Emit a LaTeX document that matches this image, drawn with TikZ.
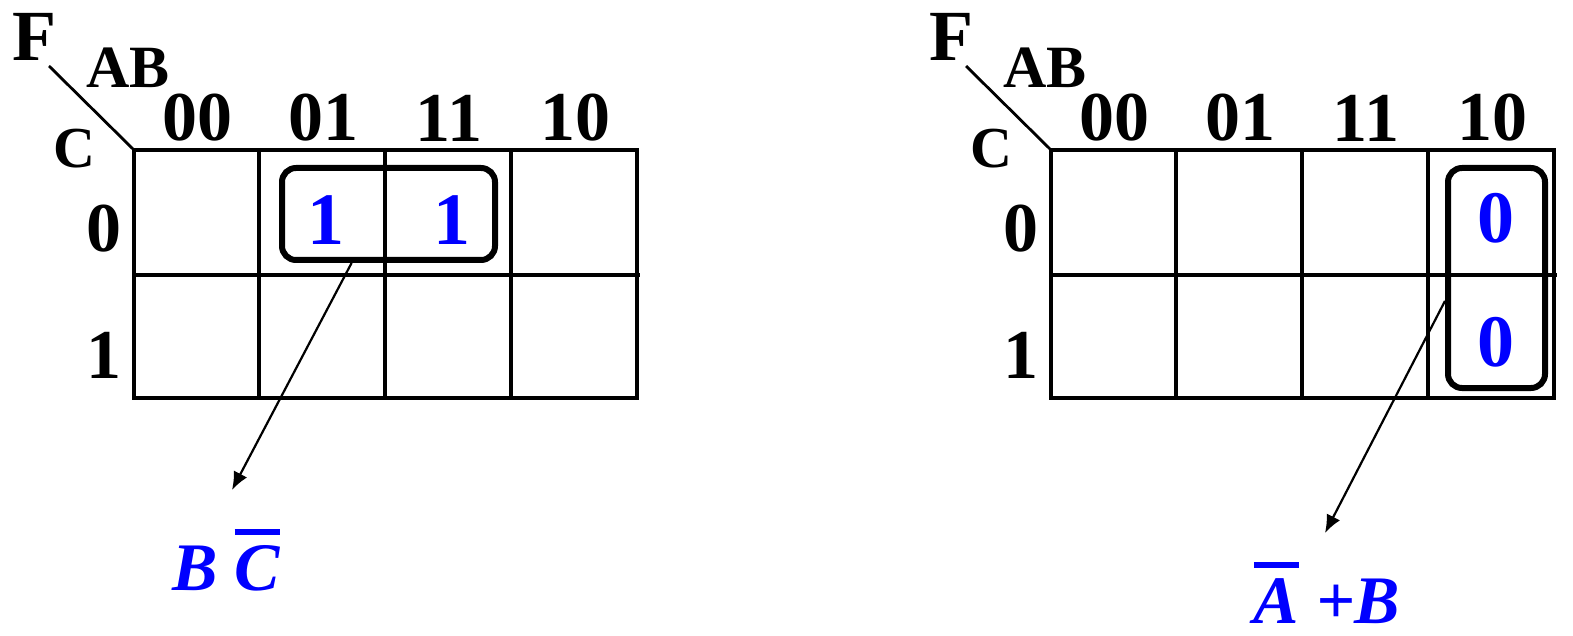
\documentclass[tikz,border=0pt]{standalone}
\usepackage{fontspec}
\setmainfont{Liberation Serif}
\usetikzlibrary{arrows.meta}
\definecolor{termblue}{RGB}{0,0,255}
\newcommand{\notbar}[1]{\setbox0=\hbox{#1}\rlap{\raise\dimexpr\ht0+5pt\relax\hbox{\vrule width\wd0 height 3pt depth 0pt}}\box0\relax}
\begin{document}
\begin{tikzpicture}[x=0.5pt,y=-0.5pt,
    gridline/.style={line width=2pt},
    loopbox/.style={draw,line width=3pt,rounded corners=7pt,inner sep=0pt},
    lbl/.style={inner sep=0pt,font=\fontsize{35}{35}\selectfont\bfseries},
    cellval/.style={inner sep=0pt,text=termblue,font=\fontsize{37}{37}\selectfont\bfseries},
    term/.style={inner sep=0pt,anchor=base,text=termblue,font=\fontsize{34}{34}\selectfont\bfseries\itshape},
    pointer/.style={line width=1.1pt,-{Latex[length=9pt,width=7.5pt]}}]
  \useasboundingbox (0,0) rectangle (1573,636);
   \newcommand{\kmapframe}[2]{
    \begin{scope}[shift={(#1,150)}]
      \draw[gridline] (0,0) rectangle (503,248);
      \draw[gridline] (0,125) -- (506,125);
      \draw[gridline] (125,0) -- (125,248) (251,0) -- (251,248) (377,0) -- (377,248);
      \draw[line width=1.4pt] (-85,-84) -- (0,0);
      \node[lbl,font=\fontsize{36}{36}\selectfont\bfseries] (#2F) at (-100,-113) {F};
      \node[lbl,font=\fontsize{30}{30}\selectfont\bfseries] (#2AB) at (-6,-82) {AB};
      \node[lbl,font=\fontsize{29}{29}\selectfont\bfseries] (#2C) at (-60,-1) {C};
      \node[lbl] (#2c00) at (63,-32) {00};
      \node[lbl] (#2c01) at (189,-32) {01};
      \node[lbl] (#2c11) at (315,-32) {11};
      \node[lbl] (#2c10) at (441,-32) {10};
      \node[lbl] (#2r0) at (-30,79) {0};
      \node[lbl] (#2r1) at (-30,205) {1};
    \end{scope}
  }
  \kmapframe{134}{L}
  \kmapframe{1051}{R}

  % left map: B not C
  \node[cellval] (oneA) at (326,220) {1};
  \node[cellval] (oneB) at (452,220) {1};
  \node[loopbox,minimum width=106.5pt,minimum height=46pt] (loopL) at (388.5,214) {};
  \coordinate (tipL) at (232,490);
  \draw[pointer] (loopL.233.5) -- (tipL);
  \node[term] (termL) at (226,590) {B \notbar{C}};

  % right map: not A + B
  \node[cellval] (zeroA) at (1496,218) {0};
  \node[cellval] (zeroB) at (1496,342) {0};
  \node[loopbox,minimum width=48.5pt,minimum height=110pt] (loopR) at (1496.5,278) {};
  \coordinate (tipR) at (1325,533);
  \draw[pointer] (loopR.204) -- (tipR);
  \node[term] (termR) at (1327,623) {\notbar{A} +B};

\end{tikzpicture}
\end{document}
